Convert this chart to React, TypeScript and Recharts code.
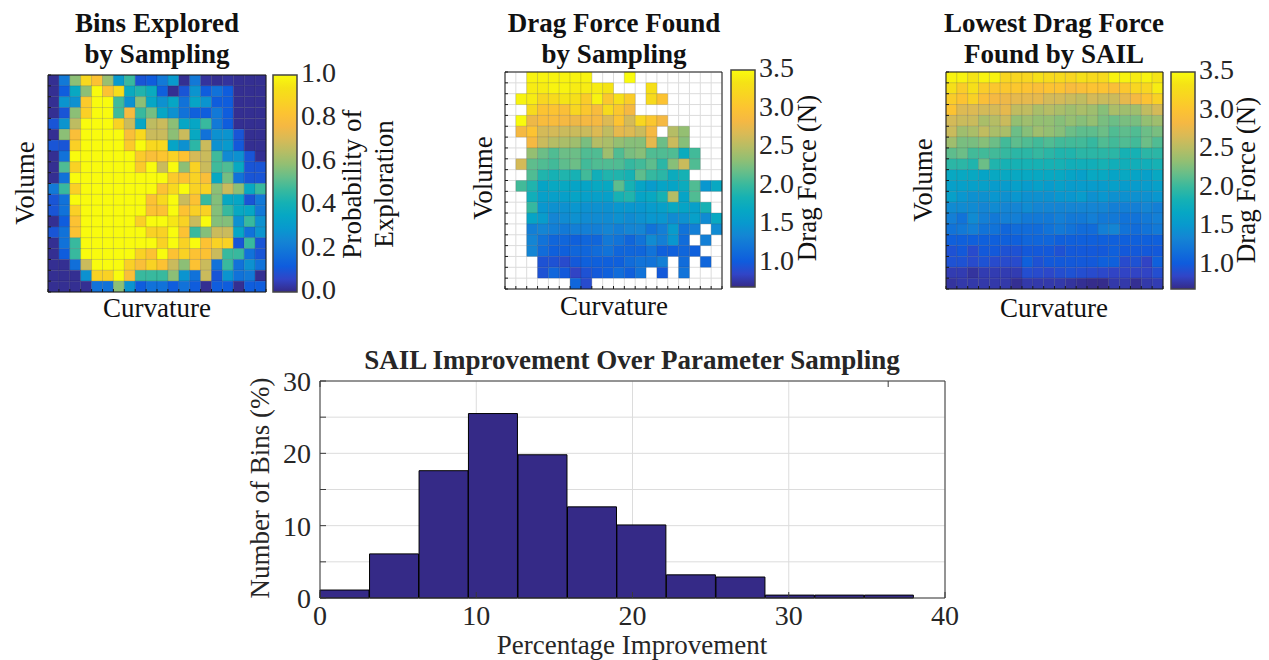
import React from 'react'
import {
  BarChart, Bar, ScatterChart, Scatter, XAxis, YAxis, CartesianGrid,
} from 'recharts'

const SERIF = '"Liberation Serif", "Times New Roman", serif'
const INK = '#262626'

const PARULA = [
  '#352a87', '#3145c7', '#0f5cdd', '#1171d9', '#1485d4', '#0899ce', '#06a7c4', '#15b1b4',
  '#38b99e', '#66be8a', '#92bf73', '#b7bd64', '#d9ba56', '#f5b843', '#fcc332', '#f9d323',
  '#f5e216', '#f9fb0e',
]

function mix(a: string, b: string, t: number) {
  const ch = (s: string, i: number) => parseInt(s.slice(i, i + 2), 16)
  const out = [1, 3, 5].map((i) => Math.round(ch(a, i) + (ch(b, i) - ch(a, i)) * t))
  return `rgb(${out.join(',')})`
}

function parula(p: number) {
  const f = Math.min(Math.max(p, 0), 1) * (PARULA.length - 1)
  const i = Math.min(Math.floor(f), PARULA.length - 2)
  return mix(PARULA[i], PARULA[i + 1], f - i)
}

const _ = null

// rows run top to bottom, columns left to right
const explored = [
  [.01,.2,.58,.9,.82,.6,.3,.47,.1,.12,.2,.3,.01,.2,.02,.01,.02,.01,.01,.01],
  [.01,.12,.36,.58,1,.82,.92,.37,.43,.37,.13,.01,.1,.28,.12,.18,.12,.01,.01,.01],
  [.01,.28,.27,.85,1,1,.48,.27,.58,.35,.27,.35,.18,.34,.28,.12,.12,.01,.01,.01],
  [.01,.1,.58,.87,1,1,.48,.78,.47,.55,.35,.27,.18,.13,.12,.2,.12,.01,.01,.01],
  [.1,.28,.66,1,1,1,.88,.68,.35,.66,.68,.58,.35,.35,.47,.2,.12,.01,.01,.01],
  [.01,.58,.8,1,1,1,1,.8,.9,.68,.68,.58,.68,.36,.18,.27,.28,.1,.01,.01],
  [.1,.1,.87,1,1,1,1,.85,1,.9,.9,.34,.27,.45,.68,.27,.3,.11,.01,.01],
  [.01,.18,1,1,1,1,1,1,.85,.8,.83,.88,.82,.7,.68,.48,.25,.27,.1,.01],
  [.01,.5,.88,1,1,1,1,1,.85,1,.68,1,.58,.88,.68,.48,.5,.36,.1,.1],
  [.01,.18,1,1,1,1,1,1,1,1,1,.85,.82,.88,.8,.36,.55,.18,.1,.1],
  [.2,.47,.87,1,1,1,1,1,1,1,.82,.9,1,.88,.88,.58,.68,.58,.36,.47],
  [.1,.18,1,1,1,1,1,1,1,.82,.9,1,.68,.82,.47,.57,.36,.35,.1,.2],
  [.1,.18,.87,1,1,1,1,1,1,.82,.82,1,.82,.87,.88,.57,.47,.36,.35,.2],
  [.01,.12,.82,1,1,1,1,1,.87,1,1,.95,.88,.68,1,.57,.57,.27,.47,.27],
  [.1,.18,.82,1,1,1,1,1,1,.88,.88,1,.82,.47,.57,.68,.68,.35,.18,.28],
  [.01,.18,.47,1,1,1,1,1,1,1,.88,1,.88,1,.82,.88,.88,.1,.47,.1],
  [.01,.12,.47,1,1,1,1,1,.88,.82,1,.82,.88,.82,.82,.68,.47,.47,.18,.1],
  [.01,.01,.17,.68,1,1,1,.87,.8,.88,.82,.68,.58,.82,.68,.18,.47,.18,.27,.18],
  [.01,.01,.01,.27,.88,.88,1,.8,.47,.47,.47,.58,.28,.18,.68,.1,.28,.18,.2,.01],
  [.01,.01,.01,.01,.18,.18,.58,.28,.12,.18,.18,.12,.18,.12,.01,.12,.12,.01,.12,.12],
]

const sampled = [
  [_,_,3.45,3.45,3.45,3.45,3.45,3.45,_,_,_,3.5,_,_,_,_,_,_,_,_],
  [_,_,3.4,3.4,3.45,3.45,3.4,3.4,3.4,3.35,_,_,_,3.3,_,_,_,_,_,_],
  [_,3.45,3.4,3.2,3.25,3.35,3.3,3.1,3.45,3.05,3.3,3.1,_,3.25,3,_,_,_,_,_],
  [_,_,3.25,3,3,2.95,3.2,3.05,2.9,3.25,3.05,2.85,_,_,_,_,_,_,_,_],
  [_,3.5,2.8,2.9,2.9,2.85,2.8,2.85,2.85,2.7,3,2.65,3.2,3.05,2.85,_,_,_,_,_],
  [_,2.85,3,2.65,2.65,2.6,2.6,2.6,2.7,2.55,2.75,2.7,2.6,2.85,_,2.5,2.35,_,_,_],
  [_,_,2.85,2.6,2.5,2.45,2.4,2.25,2.5,2.45,2.35,2.3,2.3,2.75,2.2,2.6,2.3,_,_,_],
  [_,_,2.35,2.2,2.1,2.2,2.2,2.1,2.1,2.4,2.1,2.25,2.3,2.1,2.1,2.1,1.75,2.05,_,_],
  [_,2.65,2.15,2.1,2.05,2.15,2.2,2.05,2.1,2.1,2.1,2,2.05,2.15,1.95,2.3,2.6,2.1,_,_],
  [_,_,2.1,1.9,1.85,1.9,1.85,2.05,1.8,1.9,1.9,1.85,2.15,2,1.95,1.75,1.85,_,_,_],
  [_,2.05,1.9,1.65,1.7,1.7,1.65,1.65,1.7,1.7,2.15,1.85,1.65,1.55,1.65,1.65,1.75,2.1,1.5,1.7],
  [_,_,1.8,1.6,1.6,1.6,1.65,1.6,1.6,1.6,1.85,1.9,1.65,1.7,1.85,2.5,1.65,2.1,_,_],
  [_,_,2,1.5,1.45,1.45,1.5,1.45,1.45,1.45,1.5,1.5,1.5,1.55,1.6,1.7,1.65,1.6,1.85,_],
  [_,_,1.65,1.55,1.35,1.4,1.45,1.4,1.4,1.4,1.45,1.4,1.45,1.5,1.5,1.4,1.45,1.6,1.4,1.7],
  [_,_,1.3,1.35,1.3,1.25,1.3,1.3,1.3,1.35,1.3,1.35,1.35,1.2,1.3,1.55,1.2,1.3,_,1.4],
  [_,_,1.35,1.2,1.1,1.1,1.05,1.1,1.1,1.25,1.2,1.1,1.2,1.4,1.3,1.5,1.15,_,1.3,_],
  [_,_,1.35,1.15,1.05,1.05,1.1,1.1,1.15,1.2,1.1,1.1,1.1,1.2,1.05,1.05,1.1,1.05,_,_],
  [_,_,_,.95,.95,.9,1,1.05,1.05,1.05,1.05,1.15,1.2,1.2,1.3,_,1.15,_,1.1,_],
  [_,_,_,.95,1.1,1,.85,.95,1,1.05,1.15,1.05,1.2,_,1,_,1.2,_,_,_],
  [_,_,_,_,_,_,1.1,.9,_,_,_,_,_,_,_,_,_,_,_,_],
]

const sail = [
  [3.45,3.45,3.35,3.45,3.45,3.2,3.2,3.2,3.3,3.25,3.25,3.2,3.3,3.25,3.25,3.45,3.45,3.4,3.45,3.35],
  [3.3,3.1,3.3,3.1,3.05,3.05,3.05,3,2.95,3,3,2.9,2.95,3,3,2.95,3.05,3.2,3.2,3.4],
  [3.1,3,3.15,2.95,2.85,2.8,2.75,2.75,2.75,2.65,2.65,2.6,2.55,2.65,2.6,2.6,2.75,2.85,3,3.15],
  [3,2.7,2.7,2.65,2.65,2.75,2.55,2.55,2.45,2.5,2.45,2.4,2.45,2.4,2.3,2.45,2.4,2.4,2.55,2.65],
  [2.65,2.6,2.6,2.45,2.5,2.6,2.35,2.4,2.35,2.35,2.3,2.35,2.3,2.35,2.25,2.2,2.25,2.25,2.35,2.4],
  [2.6,2.4,2.45,2.55,2.45,2.45,2.2,2.3,2.4,2.35,2.3,2.2,2.15,2.15,2.2,2.1,2.15,2.1,2.2,2.25],
  [2.4,2.25,2.25,2.3,2.2,2.05,2.15,2.1,2.05,2.1,2.05,2.05,2.05,2,2.1,2.05,2.1,2.05,2.2,2.1],
  [2.15,2.2,2.05,2.05,2.05,2,1.95,1.95,2,1.95,1.9,1.9,1.95,1.95,1.95,1.95,1.85,1.85,1.95,1.95],
  [1.95,1.95,1.9,2.2,1.9,1.85,1.85,1.85,1.85,1.85,1.85,1.8,1.8,1.8,1.85,1.8,1.8,1.8,1.8,1.85],
  [1.7,1.7,1.7,1.65,1.7,1.7,1.7,1.7,1.7,1.7,1.7,1.65,1.6,1.7,1.7,1.65,1.7,1.65,1.6,1.7],
  [1.6,1.6,1.6,1.6,1.55,1.55,1.6,1.55,1.6,1.55,1.6,1.55,1.55,1.55,1.55,1.6,1.55,1.55,1.55,1.6],
  [1.6,1.5,1.45,1.45,1.5,1.45,1.5,1.45,1.45,1.45,1.5,1.5,1.55,1.45,1.5,1.45,1.45,1.45,1.45,1.5],
  [1.4,1.4,1.4,1.35,1.4,1.35,1.35,1.4,1.35,1.35,1.35,1.35,1.35,1.35,1.35,1.3,1.3,1.3,1.35,1.3],
  [1.3,1.2,1.4,1.3,1.25,1.3,1.3,1.25,1.25,1.25,1.3,1.25,1.25,1.3,1.25,1.25,1.2,1.2,1.25,1.3],
  [1.2,1.25,1.3,1.2,1.2,1.1,1.15,1.15,1.15,1.2,1.25,1.2,1.15,1.15,1.3,1.35,1.2,1.15,1.2,1.25],
  [1.05,1.05,1.05,1.05,1.05,1.05,1.05,1.1,1.1,1.1,1.05,1.05,1.05,1.05,1.05,1.05,1.05,1.05,1.05,1.05],
  [.95,1,.9,1,1,.95,.95,1,1,1,.95,1,1,1,1,1.05,1,1,1,1],
  [.95,.95,.9,.95,.9,.9,.9,1.05,.95,1,1,1,1,1,1.05,1.05,.9,.95,.85,1.05],
  [.8,.8,.75,.8,.8,.8,.8,.92,.9,.88,.92,.95,.92,.9,.88,.85,.85,.85,.85,.92],
  [.75,.78,.78,.78,.78,.78,.72,.78,.78,.78,.78,.75,.72,.7,.7,.78,.78,.72,.78,.8],
]

const binMid = [1.58, 4.75, 7.92, 11.08, 14.25, 17.42, 20.58, 23.75, 26.92, 30.08, 33.25, 36.42]
const binPct = [1.1, 6.1, 17.6, 25.5, 19.8, 12.6, 10.1, 3.2, 2.9, 0.4, 0.4, 0.4]
const histX = [0, 10, 20, 30, 40]
const histY = [0, 5, 10, 15, 20, 25, 30]
const probTicks = [0, 0.2, 0.4, 0.6, 0.8, 1]
const dragTicks = [1, 1.5, 2, 2.5, 3, 3.5]
const cellTicks = Array.from({ length: 21 }, (_v, i) => i)

const histData = binMid.map((mid, i) => ({ mid, pct: binPct[i] }))

const GAP = 30
const blank = () => ''

function Heatmap({ rows, lo, hi, x, y, w, h }: {
  rows: (number | null)[][]; lo: number; hi: number; x: number; y: number; w: number; h: number
}) {
  const cells: { cx: number; cy: number; v: number }[] = []
  rows.forEach((row, r) => row.forEach((v, c) => {
    if (v !== null) cells.push({ cx: c + 0.5, cy: 19.5 - r, v })
  }))
  const cw = w / 20
  const ch = h / 20
  const axis = { type: 'number' as const, domain: [0, 20], ticks: cellTicks, tickFormatter: blank, tickSize: -3, interval: 0, stroke: '#1a1a1a', zIndex: 700 }
  return (
    <div style={{ position: 'absolute', left: x - GAP, top: y - GAP }}>
      <ScatterChart width={w + GAP * 2} height={h + GAP * 2} margin={{ top: GAP - 1, right: GAP - 1, bottom: GAP - 1, left: GAP - 1 }}>
        <CartesianGrid
          horizontalCoordinatesGenerator={({ offset }: any) => cellTicks.map((t) => offset.top + (t * offset.height) / 20)}
          verticalCoordinatesGenerator={({ offset }: any) => cellTicks.map((t) => offset.left + (t * offset.width) / 20)}
          stroke="#dcdcdc"
        />
        <XAxis xAxisId={0} dataKey="cx" height={1} {...axis} />
        <XAxis xAxisId={1} orientation="top" height={1} {...axis} />
        <YAxis yAxisId={0} dataKey="cy" width={1} {...axis} />
        <YAxis yAxisId={1} orientation="right" width={1} {...axis} />
        <Scatter
          data={cells}
          xAxisId={0}
          yAxisId={0}
          isAnimationActive={false}
          shape={(p: any) => (
            <rect
              x={p.cx - cw / 2}
              y={p.cy - ch / 2}
              width={cw}
              height={ch}
              fill={parula((p.payload.v - lo) / (hi - lo))}
              stroke="rgba(0,0,0,0.1)"
            />
          )}
        />
      </ScatterChart>
    </div>
  )
}

function ColorBar({ id, lo, hi, ticks, x, y, w, h }: {
  id: string; lo: number; hi: number; ticks: number[]; x: number; y: number; w: number; h: number
}) {
  return (
    <div style={{ position: 'absolute', left: x - GAP, top: y - GAP }}>
      <BarChart
        width={w + GAP * 2 + 50}
        height={h + GAP * 2}
        data={[{ name: 'c', top: hi }]}
        barCategoryGap={0}
        margin={{ top: GAP, right: 0, bottom: GAP, left: GAP }}
      >
        <defs>
          <linearGradient id={id} x1="0" y1="1" x2="0" y2="0">
            {PARULA.map((c, i) => <stop key={c} offset={i / (PARULA.length - 1)} stopColor={c} />)}
          </linearGradient>
        </defs>
        <XAxis dataKey="name" hide />
        <YAxis
          orientation="right"
          type="number"
          width={GAP + 50}
          domain={[lo, hi]}
          ticks={ticks}
          interval={0}
          axisLine={false}
          tickLine={false}
          tickMargin={4}
          tickSize={0}
          tickFormatter={(v: number) => v.toFixed(1)}
          tick={{ fontSize: 28, fontFamily: SERIF, fill: INK, textAnchor: 'start', dy: -3 }}
        />
        <Bar dataKey="top" fill={`url(#${id})`} stroke="#444" strokeWidth={1.5} isAnimationActive={false} />
      </BarChart>
    </div>
  )
}

function Caption({ x, y, bold, rotate, color, children }: {
  x: number; y: number; bold?: boolean; rotate?: boolean; color?: string; children: React.ReactNode
}) {
  return (
    <div
      style={{
        position: 'absolute',
        left: x,
        top: y,
        transform: `translate(-50%, -50%)${rotate ? ' rotate(-90deg)' : ''}`,
        fontFamily: SERIF,
        fontSize: 27,
        fontWeight: bold ? 700 : 400,
        color: color ?? '#111',
        whiteSpace: 'nowrap',
        lineHeight: 1,
      }}
    >
      {children}
    </div>
  )
}

function Histogram() {
  const axisTick = { fontSize: 28, fontFamily: SERIF, fill: INK }
  return (
    <div style={{ position: 'absolute', left: 320 - 70, top: 381 - 31 }}>
      <BarChart
        width={70 + 625 + 20}
        height={31 + 217 + 40}
        data={histData}
        barCategoryGap={0}
        margin={{ top: 30, right: 19, bottom: 0, left: 0 }}
      >
        <CartesianGrid stroke="#dcdcdc" horizontalValues={histY} verticalValues={histX} />
        <XAxis
          xAxisId={0}
          dataKey="mid"
          type="number"
          domain={[0, 40]}
          ticks={histX}
          interval={0}
          height={40}
          stroke="#3a3a3a"
          tickSize={-6}
          tickMargin={13}
          tick={axisTick}
        />
        <XAxis xAxisId={1} orientation="top" type="number" domain={[0, 40]} ticks={histX} interval={0} height={1} stroke="#3a3a3a" tickSize={-6} tickFormatter={blank} />
        <YAxis
          yAxisId={0}
          type="number"
          domain={[0, 30]}
          ticks={histY}
          interval={0}
          width={70}
          stroke="#3a3a3a"
          tickSize={-6}
          tickMargin={15}
          tick={axisTick}
          tickFormatter={(v: number) => (v % 10 === 0 ? String(v) : '')}
        />
        <YAxis yAxisId={1} orientation="right" type="number" domain={[0, 30]} ticks={histY} interval={0} width={1} stroke="#3a3a3a" tickSize={-6} tickFormatter={blank} />
        <Bar dataKey="pct" xAxisId={0} yAxisId={0} fill="#352a87" stroke="#000" strokeWidth={1} isAnimationActive={false} />
      </BarChart>
    </div>
  )
}

export default function App() {
  return (
    <div style={{ position: 'absolute', left: 0, top: 0, width: 1269, height: 660, background: '#fff', overflow: 'hidden' }}>
      <Caption x={157} y={23} bold>Bins Explored</Caption>
      <Caption x={157} y={54} bold>by Sampling</Caption>
      <Heatmap rows={explored} lo={0} hi={1} x={48} y={74.5} w={218} h={217} />
      <ColorBar id="barA" lo={0} hi={1} ticks={probTicks} x={273} y={74.5} w={24} h={217} />
      <Caption x={25} y={183} rotate>Volume</Caption>
      <Caption x={157} y={308}>Curvature</Caption>
      <Caption x={352} y={184} rotate>Probability of</Caption>
      <Caption x={384} y={184} rotate>Exploration</Caption>

      <Caption x={614} y={23} bold>Drag Force Found</Caption>
      <Caption x={614} y={54} bold>by Sampling</Caption>
      <Heatmap rows={sampled} lo={0.69} hi={3.5} x={505} y={71.5} w={217} h={217} />
      <ColorBar id="barB" lo={0.69} hi={3.5} ticks={dragTicks} x={731} y={70} w={24} h={217} />
      <Caption x={483} y={178} rotate>Volume</Caption>
      <Caption x={614} y={306}>Curvature</Caption>
      <Caption x={807} y={178} rotate>Drag Force (N)</Caption>

      <Caption x={1054} y={23} bold>Lowest Drag Force</Caption>
      <Caption x={1054} y={54} bold>Found by SAIL</Caption>
      <Heatmap rows={sail} lo={0.69} hi={3.5} x={946} y={71.5} w={217} h={217} />
      <ColorBar id="barC" lo={0.69} hi={3.5} ticks={dragTicks} x={1171} y={71.5} w={24} h={217} />
      <Caption x={923} y={180} rotate>Volume</Caption>
      <Caption x={1054} y={308}>Curvature</Caption>
      <Caption x={1246} y={180} rotate>Drag Force (N)</Caption>

      <Histogram />
      <Caption x={632} y={360} bold color={INK}>SAIL Improvement Over Parameter Sampling</Caption>
      <Caption x={260} y={488} rotate color={INK}>Number of Bins (%)</Caption>
      <Caption x={632} y={645} color={INK}>Percentage Improvement</Caption>
    </div>
  )
}
